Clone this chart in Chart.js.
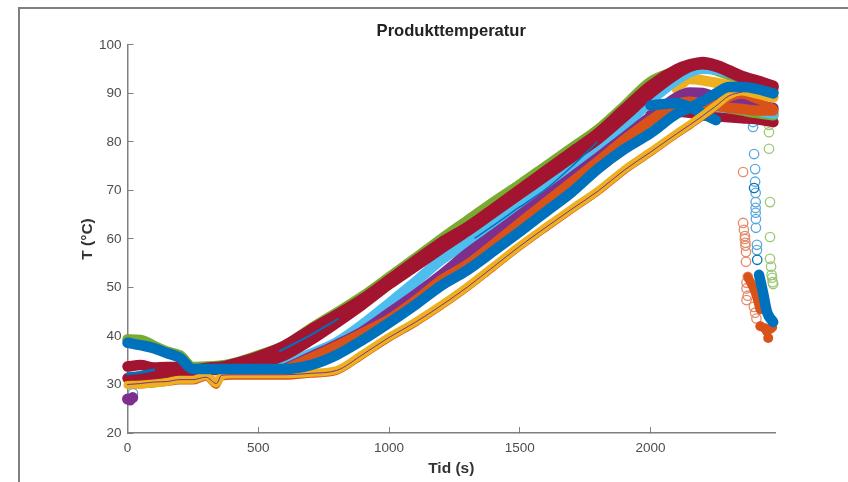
<!DOCTYPE html>
<html>
<head>
<meta charset="utf-8">
<title>Produkttemperatur</title>
<script src="https://cdn.jsdelivr.net/npm/chart.js@4"></script>
<style>
  html, body { margin: 0; background: #fff; }
  #wrap { position: relative; width: 848px; height: 482px; overflow: hidden; }
  #frame { position: absolute; left: 18px; top: 7px; width: 900px; height: 600px; border-left: 2px solid #808080; border-top: 2px solid #808080; }
  canvas { position: absolute; left: 0; top: 0; filter: blur(0.45px); }
</style>
</head>
<body>
<div id="wrap"><div id="frame"></div><canvas id="myChart" width="848" height="482"></canvas></div>
<script>
const xTicks = [0, 500, 1000, 1500, 2000];
const yTicks = [20, 30, 40, 50, 60, 70, 80, 90, 100];

const times = [0,50,100,150,200,250,300,340,360,400,500,600,700,800,900,1000,1100,1200,1300,1400,1500,1600,1700,1800,1900,2000,2100,2150,2200,2250,2300,2350,2400,2470];
const green = [39.3,39.2,38,36.8,36,33.6,33.7,33.8,33.9,34.3,36,38,41.5,44.8,48.2,52.1,56,60,63.8,67.6,71.2,75,78.8,82.6,87.4,92.4,94.6,95.3,95.4,94.8,93.8,92.8,91.9,90.4];
const redTop = [33.7,34,33.5,33.6,33.6,33,33.4,33.6,33.7,34.2,35.8,38,41.3,44.4,47.7,51.6,55.5,59.3,62.5,66.3,70.2,74.1,78,81.9,86.8,91.6,95,96,96.5,95.9,94.8,93.6,92.8,91.6];
const redMid = [31.3,31.6,31.6,32,32,32.5,33,33,33.2,33.5,34.3,36,39.1,42.7,46.5,50.6,54.3,58,61.6,65.4,69.2,73,76.8,80.6,85.2,90,94,95.5,96,95.5,94.4,93.2,92.4,91.2];
const lightBlue = [null,null,null,null,null,null,null,null,null,null,33.5,34,36.3,38.7,42.4,46.7,51.1,55.7,59.3,63.1,66.9,70.7,74.4,78.2,83.2,88.5,92.8,94.4,95.1,94.9,94.2,93.3,92.6,91.5];
const purple = [null,null,null,null,null,null,null,null,null,null,null,33.2,35.7,38.2,41,44.7,48.5,52.6,57,60.9,64.9,68.8,72.8,76.8,81,85.2,89.2,90.2,90.1,89.2,88.6,88.1,87.7,87];
const orange = [null,null,null,null,null,null,null,null,null,null,null,33,35.4,37.9,40.6,43.4,47.2,51.5,54.7,58.9,63.2,67.5,71.7,76,80.4,84.4,87.8,88.3,87.8,87.5,87,86.8,86.5,86.5];
const blue = [38.6,38.1,37.5,36.5,35.5,33.2,33.2,33.2,33.2,33.2,33.2,33.2,34,36.1,39.2,42.7,46.4,50.4,53.6,57.5,61.5,65.6,69.7,74.5,78.5,81.8,85.8,87,88.4,90,91.3,91.3,91,90];
const yellow = [29.9,30,30.2,30.5,31,31,31.8,30.2,31.8,32.1,32.1,32.1,32.4,33,36.3,39.8,42.9,46.4,50.2,54.4,58.6,62.5,66.3,70,74.3,78,81.8,83.6,85.5,87.5,89.6,90.4,89.8,89];
const orangeLow = [29.8,29.8,30,30.3,30.6,30.6,31.4,29.7,31.4,31.6,31.6,31.6,32,32.6,35.9,39.4,42.5,46,49.8,54,58.2,62.1,65.9,69.6,73.9,77.6,81.4,83.2,85.1,87,88.8,89.5,88.6,87.2];
const purpleThin = [30,30.2,30.5,30.6,31,31,31.5,30.2,31.9,32,32,32,32.3,32.9,36.2,39.7,42.8,46.3,50.1,54.3,58.5,62.4,66.2,69.9,74.2,77.9,81.7,83.5,85.4,87.4,89.5,90.3,null,null];

// series that only show up near the peak, the rest sits under the other bands
const lateTimes = [2000,2100,2150,2200,2250,2300,2350,2400,2470];
const yellowUpper = [null,91,93,92.7,92.2,91.6,90.9,90.3,89.2];
const lightBlueLow = [85,87,88,87.6,87.2,87,86.8,86.5,85.8];
const redLow = [85.5,86.2,86,85.5,85.3,85.1,84.9,84.7,84.1];
const greenLow = [null,null,null,87.7,87.4,87,86.5,86,85.5];
const blueUpper = [87.5,88,87.2,85.8,84.5,null,null,null,null];

// yellow wedge around 340 s
const wedgeT = [305,340,358];
const wedgeY = [31.6,31,31.6];

// thin blue streaks inside the bands
const streakStartT = [0,50,100];
const streakStartY = [32.2,32.5,33];
const streakRedT = [583,700,805];
const streakRedY = [36.9,40.2,43.5];
const streakLightT = [1329,1400,1500,1600,1700,1796];
const streakLightY = [60.2,62.8,66.6,70.3,75,80];

// dense tails of the drop at the end of the run
const blueDropT = [2415,2430,2445,2469];
const blueDropY = [52.6,49,45,42.9];
const orangeDropT = [2372,2400,2419];
const orangeDropY = [52.2,49,45.4];

// single markers
const orangeBlobT = [2420,2437,2445,2450,2458,2465];
const orangeBlobY = [42,41.6,41,39.6,41.5,41.8];
const purpleBlobT = [0,10,20];
const purpleBlobY = [27,26.8,27.3];
const patchT = [155];
const patchY = [33.4];

const ringBlueT = [2392,2392,2392,2396,2400,2400,2402,2402,2402,2402,2403,2403,2407,2407,21];
const ringBlueY = [84.9,84.1,83.1,77.5,74.4,71.8,69.5,67.6,66.4,65.4,64.1,62.3,58.8,57.7,28.2];
const ringDarkBlueT = [2396,2408,2390];
const ringDarkBlueY = [70.5,55.7,85.4];
const ringGreenT = [2453,2453,2453,2453,2453,2457,2457,2457,2461,2463,2465,2467,2469];
const ringGreenY = [86.6,85.2,83.5,82,78.6,67.6,60.4,55.9,54.3,52.6,52,51.1,50.7];
const ringOrangeT = [2354,2354,2357,2361,2361,2363,2363,2365,2365,2372,2367,2367,2372,2367,2395,2400,2405];
const ringOrangeY = [73.8,63.3,61.9,60.6,60,59.2,58.6,57.3,55.3,52.2,51,49.8,48.3,47.4,46,44.8,43.6];

const pairs = (xs, ys) => xs.map((x, i) => ({ x: x, y: ys[i] }));

const band = (label, xs, ys, color, width) => ({
    label: label,
    data: pairs(xs, ys),
    showLine: true,
    borderColor: color,
    backgroundColor: color,
    borderWidth: width,
    borderCapStyle: 'round',
    borderJoinStyle: 'round',
    cubicInterpolationMode: 'monotone',
    pointRadius: 0,
    clip: false
});

const dots = (label, xs, ys, color, radius) => ({
    label: label,
    data: pairs(xs, ys),
    showLine: false,
    pointRadius: radius,
    pointBorderWidth: 0,
    pointBackgroundColor: color,
    clip: false
});

const rings = (label, xs, ys, color) => ({
    label: label,
    data: pairs(xs, ys),
    showLine: false,
    pointRadius: 4.7,
    pointBorderWidth: 1.3,
    pointBorderColor: color,
    pointBackgroundColor: 'rgba(0,0,0,0)',
    clip: false
});

const BLUE = '#0072BD', ORANGE = '#D95319', YELLOW = '#EDB120', PURPLE = '#7E2F8E',
      GREEN = '#77AC30', LIGHT = '#4DBEEE', RED = '#A2142F';
const WIDE = 10.5;

// first dataset ends up on top in Chart.js
const datasets = [
    band('streakStart', streakStartT, streakStartY, BLUE, 3),
    band('streakRed', streakRedT, streakRedY, BLUE, 2),
    band('streakLight', streakLightT, streakLightY, BLUE, 1.5),
    band('purpleThin', times, purpleThin, PURPLE, 1),
    band('blueDrop', blueDropT, blueDropY, BLUE, WIDE),
    band('blue', times, blue, BLUE, WIDE),
    band('yellow', times, yellow, YELLOW, 8),
    band('wedge', wedgeT, wedgeY, YELLOW, 6),
    band('orangeLow', times, orangeLow, ORANGE, 6),
    band('blueUpper', lateTimes, blueUpper, BLUE, WIDE),
    band('orange', times, orange, ORANGE, WIDE),
    band('purple', times, purple, PURPLE, WIDE),
    band('redTop', times, redTop, RED, WIDE),
    band('redMid', times, redMid, RED, WIDE),
    band('lightBlue', times, lightBlue, LIGHT, WIDE),
    band('lightBlueLow', lateTimes, lightBlueLow, LIGHT, WIDE),
    band('greenLow', lateTimes, greenLow, GREEN, WIDE),
    band('yellowUpper', lateTimes, yellowUpper, YELLOW, WIDE),
    band('green', times, green, GREEN, WIDE),
    band('redLow', lateTimes, redLow, RED, WIDE),
    dots('patchOrange', patchT, patchY, ORANGE, 3),
    dots('purpleBlob', purpleBlobT, purpleBlobY, PURPLE, 5.5),
    band('orangeDrop', orangeDropT, orangeDropY, ORANGE, 9),
    dots('orangeBlob', orangeBlobT, orangeBlobY, ORANGE, 5),
    rings('ringDarkBlue', ringDarkBlueT, ringDarkBlueY, BLUE),
    rings('ringBlue', ringBlueT, ringBlueY, '#5AA8DC'),
    rings('ringGreen', ringGreenT, ringGreenY, '#9CC773'),
    rings('ringOrange', ringOrangeT, ringOrangeY, '#E58A68')
];

const textColor = '#4d4d4d';
const axisColor = '#808080';
const tickFont = { family: '"Liberation Sans", Arial, sans-serif', size: 13.5 };
const labelFont = { family: '"Liberation Sans", Arial, sans-serif', size: 15.5, weight: 'bold' };

new Chart(document.getElementById('myChart').getContext('2d'), {
    type: 'scatter',
    data: { datasets: datasets },
    options: {
        responsive: false,
        animation: false,
        events: [],
        layout: { padding: { left: 76, right: 73, top: 0, bottom: 0 } },
        plugins: {
            legend: { display: false },
            tooltip: { enabled: false },
            title: {
                display: true,
                fullSize: false,
                text: 'Produkttemperatur',
                color: '#222',
                font: { family: '"Liberation Sans", Arial, sans-serif', size: 16.6, weight: 'bold' },
                padding: { top: 21, bottom: 4 }
            }
        },
        scales: {
            x: {
                type: 'linear',
                min: 0,
                max: 2476,
                afterBuildTicks: axis => { axis.ticks = xTicks.map(v => ({ value: v })); },
                afterFit: axis => { axis.height = 49; },
                grid: { drawOnChartArea: false, tickLength: -6, tickColor: axisColor, tickWidth: 1 },
                border: { color: axisColor, width: 1.5 },
                ticks: { color: textColor, font: tickFont, maxRotation: 0, padding: 13, callback: v => String(v) },
                title: { display: true, text: 'Tid (s)', color: '#333', font: labelFont, padding: { top: 0, bottom: 4 } }
            },
            y: {
                min: 20,
                max: 100,
                afterBuildTicks: axis => { axis.ticks = yTicks.map(v => ({ value: v })); },
                afterFit: axis => { axis.width = 51.5; },
                grid: { drawOnChartArea: false, tickLength: -6, tickColor: axisColor, tickWidth: 1 },
                border: { color: axisColor, width: 1.5 },
                ticks: { color: textColor, font: tickFont, padding: 12 },
                title: { display: true, text: 'T (°C)', color: '#333', font: labelFont, padding: { top: 2, bottom: 0 } }
            }
        }
    }
});
</script>
</body>
</html>
